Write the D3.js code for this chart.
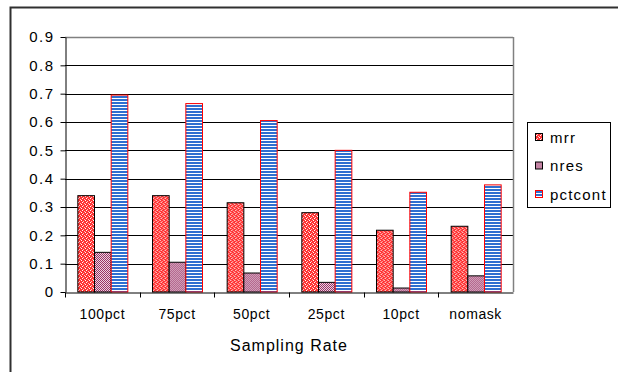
<!DOCTYPE html>
<html>
<head>
<meta charset="utf-8">
<script src="https://cdn.jsdelivr.net/npm/d3@7"></script>
<style>
  body { margin: 0; background: #fff; }
  text { font-family: "Liberation Sans", Arial, sans-serif; fill: #000; }
</style>
</head>
<body>
<div id="root"></div>
<script>
var config = {
  chartWidth: 618,
  chartHeight: 372
};

const categories = ['100pct', '75pct', '50pct', '25pct', '10pct', 'nomask'];
const seriesNames = ['mrr', 'nres', 'pctcont'];
const mrr = [0.34, 0.34, 0.315, 0.28, 0.218, 0.232];
const nres = [0.14, 0.105, 0.067, 0.034, 0.014, 0.057];
const pctcont = [0.695, 0.665, 0.605, 0.5, 0.352, 0.378];
const yTicks = [0, 0.1, 0.2, 0.3, 0.4, 0.5, 0.6, 0.7, 0.8, 0.9];

const values = { mrr: mrr, nres: nres, pctcont: pctcont };

const plot = { left: 65, top: 37, right: 513, bottom: 292 };

const chart = d3.select('#root')
  .append('svg:svg')
  .attr('width', config.chartWidth)
  .attr('height', config.chartHeight);

// Patterns
const defs = chart.append('defs');

const pMrr = defs.append('pattern').attr('id', 'pat-mrr')
  .attr('patternUnits', 'userSpaceOnUse').attr('width', 4).attr('height', 4);
pMrr.append('rect').attr('width', 4).attr('height', 4).attr('fill', '#ff3333');
pMrr.append('rect').attr('x', 0).attr('y', 0).attr('width', 1).attr('height', 1).attr('fill', '#ffffff');
pMrr.append('rect').attr('x', 2).attr('y', 1).attr('width', 1).attr('height', 1).attr('fill', '#ffc0c0');
pMrr.append('rect').attr('x', 1).attr('y', 2).attr('width', 1).attr('height', 1).attr('fill', '#ffffff');
pMrr.append('rect').attr('x', 3).attr('y', 3).attr('width', 1).attr('height', 1).attr('fill', '#ffc0c0');

const pNres = defs.append('pattern').attr('id', 'pat-nres')
  .attr('patternUnits', 'userSpaceOnUse').attr('width', 2).attr('height', 2);
pNres.append('rect').attr('width', 2).attr('height', 2).attr('fill', '#993366');
pNres.append('rect').attr('x', 0).attr('y', 0).attr('width', 1).attr('height', 1).attr('fill', '#ecd2e0');
pNres.append('rect').attr('x', 1).attr('y', 1).attr('width', 1).attr('height', 1).attr('fill', '#ecd2e0');

const pPct = defs.append('pattern').attr('id', 'pat-pctcont')
  .attr('patternUnits', 'userSpaceOnUse').attr('width', 4).attr('height', 3);
pPct.append('rect').attr('width', 4).attr('height', 3).attr('fill', '#2f6fd0');
pPct.append('rect').attr('y', 2).attr('width', 4).attr('height', 1).attr('fill', '#ffffff');

const fills = { mrr: 'url(#pat-mrr)', nres: 'url(#pat-nres)', pctcont: 'url(#pat-pctcont)' };
const strokes = { mrr: '#000', nres: '#000', pctcont: '#ff0000' };

// Outer frame
chart.append('rect')
  .attr('x', 10.5).attr('y', 7.5)
  .attr('width', 640).attr('height', 400)
  .attr('fill', 'none').attr('stroke', '#303030').attr('stroke-width', 2);

// Scales
const x = d3.scaleBand().domain(categories).range([plot.left, plot.right]);
const xInner = d3.scaleBand().domain(seriesNames)
  .range([0, x.bandwidth()]).paddingOuter(0.74).paddingInner(0);
const y = d3.scaleLinear().domain([0, 0.9]).range([plot.bottom, plot.top]);

// Gridlines
chart.append('g').selectAll('line')
  .data(yTicks.filter(d => d > 0))
  .enter()
    .append('line')
    .attr('x1', plot.left).attr('x2', plot.right)
    .attr('y1', d => Math.round(y(d)) + 0.5).attr('y2', d => Math.round(y(d)) + 0.5)
    .attr('stroke', '#000').attr('stroke-width', 1);

// Plot border (top and right)
chart.append('line')
  .attr('x1', plot.right + 0.5).attr('x2', plot.right + 0.5)
  .attr('y1', plot.top).attr('y2', plot.bottom)
  .attr('stroke', '#808080').attr('stroke-width', 1.5);
chart.append('line')
  .attr('x1', plot.left).attr('x2', plot.right)
  .attr('y1', plot.top + 0.5).attr('y2', plot.top + 0.5)
  .attr('stroke', '#808080').attr('stroke-width', 1.5);

// Bars
const groups = chart.append('g').selectAll('g')
  .data(categories)
  .enter()
    .append('g')
    .attr('transform', d => `translate(${x(d)},0)`);

groups.selectAll('rect')
  .data((d, i) => seriesNames.map(s => ({ series: s, value: values[s][i] })))
  .enter()
    .append('rect')
    .attr('x', d => xInner(d.series) + 0.5)
    .attr('width', xInner.bandwidth())
    .attr('y', d => y(d.value))
    .attr('height', d => y(0) - y(d.value))
    .attr('fill', d => fills[d.series])
    .attr('stroke', d => strokes[d.series])
    .attr('stroke-width', 1);

// Y axis
const yAxis = chart.append('g')
  .attr('transform', `translate(${plot.left + 0.5},0)`)
  .call(d3.axisLeft(y).tickValues(yTicks).tickSize(5).tickSizeOuter(0)
    .tickFormat(d => d === 0 ? '0' : d3.format('.1f')(d)));
yAxis.selectAll('path, line').attr('stroke', '#000');
yAxis.selectAll('text')
  .attr('font-size', 15).attr('x', -11)
  .attr('letter-spacing', 1.5)
  .attr('font-family', '"Liberation Sans", Arial, sans-serif');

// X axis
const xAxis = chart.append('g')
  .attr('transform', `translate(0,${plot.bottom + 0.5})`)
  .call(d3.axisBottom(x).tickSize(0).tickSizeOuter(0).tickPadding(17));
xAxis.select('.domain').attr('stroke', '#000');
xAxis.selectAll('text')
  .attr('font-size', 14)
  .attr('letter-spacing', 0.6)
  .attr('font-family', '"Liberation Sans", Arial, sans-serif');
xAxis.selectAll('.boundary')
  .data(categories)
  .enter()
    .append('line')
    .attr('x1', d => Math.round(x(d)) + 0.5).attr('x2', d => Math.round(x(d)) + 0.5)
    .attr('y1', 0).attr('y2', 5)
    .attr('stroke', '#000');

// Axis title
chart.append('text')
  .attr('x', (plot.left + plot.right) / 2)
  .attr('y', 351)
  .attr('text-anchor', 'middle')
  .attr('font-size', 16)
  .attr('letter-spacing', 1)
  .text('Sampling Rate');

// Legend
const legend = chart.append('g');
legend.append('rect')
  .attr('x', 527.5).attr('y', 122.5)
  .attr('width', 83).attr('height', 85)
  .attr('fill', '#fff').attr('stroke', '#000').attr('stroke-width', 1);

const legendY = d3.scalePoint().domain(seriesNames).range([137, 194]);
const items = legend.selectAll('.item')
  .data(seriesNames)
  .enter()
    .append('g')
    .attr('transform', d => `translate(535,${legendY(d)})`);
items.append('rect')
  .attr('x', 0.5).attr('y', -3.5)
  .attr('width', 7).attr('height', 7)
  .attr('fill', d => fills[d])
  .attr('stroke', d => strokes[d]);
items.append('text')
  .attr('x', 15).attr('y', 5.5)
  .attr('font-size', 15)
  .attr('letter-spacing', 1.2)
  .text(d => d);
</script>
</body>
</html>
